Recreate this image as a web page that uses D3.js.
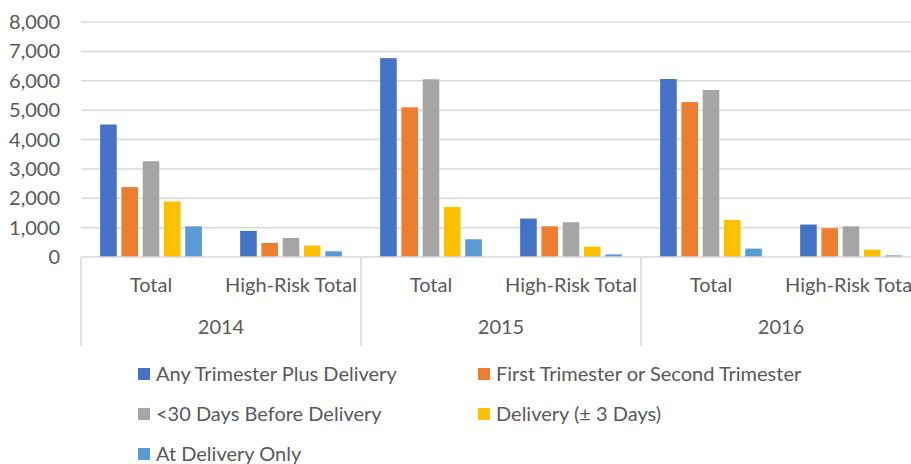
<!DOCTYPE html>
<html>
<head>
<meta charset="utf-8">
<script src="https://cdn.jsdelivr.net/npm/d3@7"></script>
<style>
  body { margin: 0; background: #fff; }
  text { font-family: Lato, "Liberation Sans", sans-serif; fill: #595959; }
</style>
</head>
<body>
<svg id="chart" width="911" height="464"></svg>
<script>
// chart values
var years = ["2014", "2015", "2016"];
var groups = ["Total", "High-Risk Total"];
var series = ["Any Trimester Plus Delivery", "First Trimester or Second Trimester",
              "<30 Days Before Delivery", "Delivery (\u00b1 3 Days)", "At Delivery Only"];
var colors = ["#4472C4", "#ED7D31", "#A5A5A5", "#FFC000", "#5B9BD5"];
var yTicks = [0, 1000, 2000, 3000, 4000, 5000, 6000, 7000, 8000];

// one array per year/group, in series order
var total2014 = [4510, 2380, 3260, 1890, 1045];
var highRisk2014 = [890, 480, 650, 390, 195];
var total2015 = [6770, 5095, 6050, 1705, 605];
var highRisk2015 = [1310, 1045, 1185, 355, 90];
var total2016 = [6060, 5275, 5685, 1260, 285];
var highRisk2016 = [1105, 980, 1045, 250, 55];

var values = {
  "2014": [total2014, highRisk2014],
  "2015": [total2015, highRisk2015],
  "2016": [total2016, highRisk2016]
};

var fontSize = "20px";
var svg = d3.select("#chart");

var y = d3.scaleLinear().domain([0, 8000]).range([257, 22]);
var x0 = d3.scaleBand().domain(years).range([81, 921]);
var x1 = d3.scaleBand().domain(groups).range([0, x0.bandwidth()]);
var x2 = d3.scaleBand().domain(series).range([0, x1.bandwidth()])
           .paddingInner(0.22).paddingOuter(0.9);

// gridlines
svg.append("g")
   .selectAll("line")
   .data(yTicks.slice(1))
   .enter()
   .append("line")
   .attr("x1", 81).attr("x2", 911)
   .attr("y1", function(d) { return y(d); })
   .attr("y2", function(d) { return y(d); })
   .attr("stroke", "#D9D9D9")
   .attr("stroke-width", 1.5);

// y labels
svg.append("g")
   .selectAll("text")
   .data(yTicks)
   .enter()
   .append("text")
   .attr("x", 60)
   .attr("y", function(d) { return y(d); })
   .attr("dy", "0.35em")
   .attr("text-anchor", "end")
   .style("font-size", fontSize)
   .text(function(d) { return d3.format(",")(d); });

// bars
var cells = [];
years.forEach(function(yr) {
  groups.forEach(function(g, gi) {
    values[yr][gi].forEach(function(v, si) {
      cells.push({ year: yr, group: g, series: series[si], color: colors[si], value: v });
    });
  });
});

svg.append("g")
   .selectAll("rect")
   .data(cells)
   .enter()
   .append("rect")
   .attr("x", function(d) { return x0(d.year) + x1(d.group) + x2(d.series); })
   .attr("y", function(d) { return y(d.value); })
   .attr("width", x2.bandwidth())
   .attr("height", function(d) { return y(0) - y(d.value); })
   .attr("fill", function(d) { return d.color; });

// category axis
var axis = svg.append("g").attr("stroke", "#D9D9D9").attr("stroke-width", 1.5);
axis.append("line")
    .attr("x1", 81).attr("x2", 911)
    .attr("y1", y(0)).attr("y2", y(0));
axis.selectAll(".div")
    .data(years)
    .enter()
    .append("line")
    .attr("x1", function(d) { return x0(d); })
    .attr("x2", function(d) { return x0(d); })
    .attr("y1", y(0)).attr("y2", 346);

years.forEach(function(yr) {
  groups.forEach(function(g) {
    svg.append("text")
       .attr("x", x0(yr) + x1(g) + x1.bandwidth() / 2)
       .attr("y", 292)
       .attr("text-anchor", "middle")
       .style("font-size", fontSize)
       .text(g);
  });
  svg.append("text")
     .attr("x", x0(yr) + x0.bandwidth() / 2)
     .attr("y", 334)
     .attr("text-anchor", "middle")
     .style("font-size", fontSize)
     .text(yr);
});

// legend
var legend = svg.append("g")
                .selectAll("g")
                .data(series)
                .enter()
                .append("g")
                .attr("transform", function(d, i) {
                  return "translate(" + (i % 2 ? 478 : 138) + "," + (374 + Math.floor(i / 2) * 40) + ")";
                });
legend.append("rect")
      .attr("x", 0).attr("y", -6)
      .attr("width", 12).attr("height", 12)
      .attr("fill", function(d, i) { return colors[i]; });
legend.append("text")
      .attr("x", 18)
      .attr("dy", "0.35em")
      .style("font-size", fontSize)
      .text(function(d) { return d; });
</script>
</body>
</html>
